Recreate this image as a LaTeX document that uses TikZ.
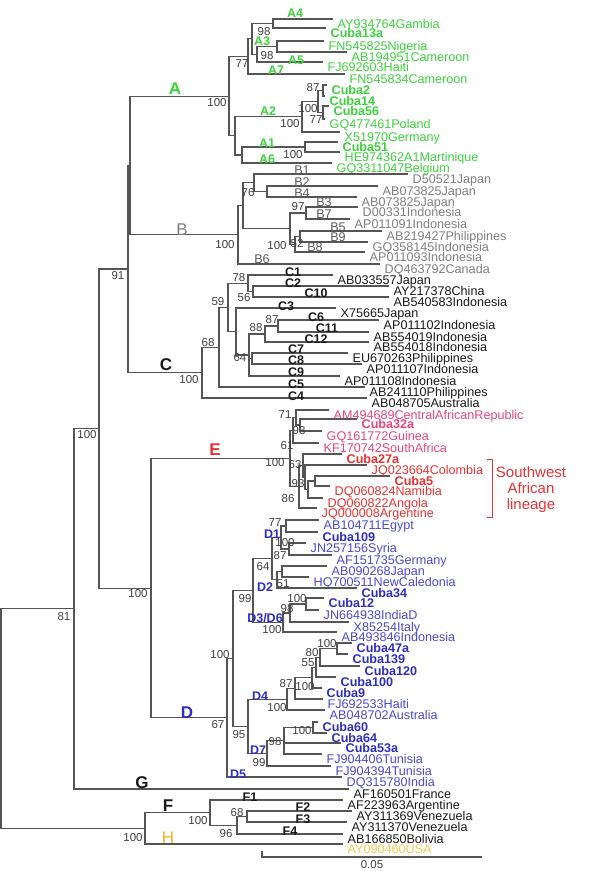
\documentclass[tikz,border=0pt]{standalone}
\usepackage{fontspec}
\setmainfont{Liberation Sans}
\definecolor{lc}{HTML}{555555}
\definecolor{gA}{HTML}{3CD23C}
\definecolor{gB}{HTML}{808080}
\definecolor{gBl}{HTML}{5A5A5A}
\definecolor{cC}{HTML}{1A1A1A}
\definecolor{pE}{HTML}{E6457D}
\definecolor{rE}{HTML}{E83232}
\definecolor{bD}{HTML}{2E2EC0}
\definecolor{bDl}{HTML}{4A4AD2}
\definecolor{oH}{HTML}{F0B428}
\definecolor{oHl}{HTML}{F5C850}
\definecolor{bsc}{HTML}{404040}
\newcommand{\leaffont}{\fontsize{12.6}{14}\selectfont}
\newcommand{\bootfont}{\fontsize{11.5}{13}\selectfont}
\newcommand{\subfnt}{\fontsize{12.5}{14}\selectfont\bfseries}
\newcommand{\bigfnt}{\fontsize{17}{19}\selectfont}
\newcommand{\mkedge}[2]{\foreach \kid in {#2}{\draw[brl] (#1) |- (\kid);}}
\newcommand{\mkleaf}[5]{\coordinate (#1) at (#2,#3);\node[leaf,#4] (#1t) at (#1) {#5};}
\begin{document}
\begin{tikzpicture}[x=1pt,y=-1pt,
  brl/.style={draw=lc,line width=1.1pt},
  leaf/.style={anchor=base west,inner sep=0pt,xshift=4.5pt,yshift=-9.5pt,font=\leaffont},
  cb/.style={font=\leaffont\bfseries},
  bs/.style={font=\bootfont,text=bsc,inner sep=0pt},
  subl/.style={font=\subfnt,inner sep=0pt},
  bigl/.style={font=\bigfnt,inner sep=0pt}]
\fill[white] (0,0) rectangle (592,871);
\useasboundingbox (0,0) rectangle (592,871);
% ---------- internal nodes ----------
\coordinate (nR) at (1,718.5);
\coordinate (n74) at (74,608.8);
\coordinate (n99) at (99,428.5);
\coordinate (nABC) at (128,269);
\coordinate (nAB) at (130,165.5);
\coordinate (nDE) at (151,588.1);
\coordinate (nFH) at (145,828.3);
% A
\coordinate (nA) at (229,96.1);
\coordinate (nA1) at (248,56.4);
\coordinate (n252) at (252,38.9);
\coordinate (nA4) at (273,23.5);
\coordinate (nA35) at (257,54.25);
\coordinate (nA3s) at (277,46.5);
\coordinate (nA2) at (235,135.9);
\coordinate (nA2s) at (302,116.75);
\coordinate (n318) at (318,101.5);
\coordinate (n323a) at (323,90.5);
\coordinate (n323b) at (323,112.5);
\coordinate (nA16) at (242,155);
\coordinate (nA1s) at (305,147);
% B
\coordinate (nB) at (238,234.8);
\coordinate (n243) at (243,205.7);
\coordinate (n254) at (254,182.75);
\coordinate (n267) at (267,191.5);
\coordinate (n290) at (290,228.6);
\coordinate (n306) at (306,213);
\coordinate (n295) at (295,244.25);
\coordinate (n300) at (300,236.5);
% C
\coordinate (nC) at (202,372.6);
\coordinate (n219c) at (219,347.2);
\coordinate (n228c) at (228,307.4);
\coordinate (n248c) at (248,283.25);
\coordinate (n253c) at (253,291.5);
\coordinate (n236c) at (236,331.5);
\coordinate (n249c) at (249,355);
\coordinate (n265c) at (265,334);
\coordinate (n278c) at (278,326);
\coordinate (n252c) at (252,358.5);
% E
\coordinate (nE) at (290,458.5);
\coordinate (ne0) at (293,430.25);
\coordinate (ne1) at (296,417.5);
\coordinate (ne2) at (300,425);
\coordinate (ne6) at (299,486.8);
\coordinate (ne3) at (303,465.6);
\coordinate (ne3b) at (305,477.25);
\coordinate (ne4) at (308,489.5);
\coordinate (ne5) at (315,481);
% D
\coordinate (nD) at (227,717.7);
\coordinate (nd233) at (233,658.4);
\coordinate (nd99) at (253,590.6);
\coordinate (nd12t) at (272,558.6);
\coordinate (nd1) at (281,537.5);
\coordinate (nd11) at (286,526);
\coordinate (nd12) at (289,549);
\coordinate (nd2) at (277,579.75);
\coordinate (nd21) at (282,571.5);
\coordinate (nd36) at (283,622.5);
\coordinate (nd36b) at (290,613);
\coordinate (nd36a) at (306,604);
\coordinate (nd95) at (248,726.25);
\coordinate (nd4) at (287,699.1);
\coordinate (nd87) at (295,688.3);
\coordinate (nd100b) at (312,677.6);
\coordinate (nd55) at (316,667.1);
\coordinate (nd80) at (320,657.25);
\coordinate (nd47) at (337,648.5);
\coordinate (nd99b) at (267,753.4);
\coordinate (nd98) at (284,740.75);
\coordinate (nd60) at (313,727.5);
% F
\coordinate (nF) at (210,812.6);
\coordinate (nF234) at (237,825.25);
\coordinate (nF23) at (247,816.5);
% ---------- leaves ----------
\mkleaf{ta1}{333}{19}{text=gA}{AY934764Gambia}
\mkleaf{ta2}{326}{28}{text=gA,cb}{Cuba13a}
\mkleaf{ta3}{324}{41}{text=gA}{FN545825Nigeria}
\mkleaf{ta4}{347}{52}{text=gA}{AB194951Cameroon}
\mkleaf{ta5}{323}{62}{text=gA}{FJ692603Haiti}
\mkleaf{ta6}{345}{74}{text=gA}{FN545834Cameroon}
\mkleaf{ta7}{327}{85}{text=gA,cb}{Cuba2}
\mkleaf{ta8}{325}{96}{text=gA,cb}{Cuba14}
\mkleaf{ta9}{329}{106}{text=gA,cb}{Cuba56}
\mkleaf{ta10}{325}{119}{text=gA}{GQ477461Poland}
\mkleaf{ta11}{340}{132}{text=gA}{X51970Germany}
\mkleaf{ta12}{338}{142}{text=gA,cb}{Cuba51}
\mkleaf{ta13}{340}{152}{text=gA}{HE974362A1Martinique}
\mkleaf{ta14}{332}{163}{text=gA}{GQ3311047Belgium}
\mkleaf{tb1}{408}{174}{text=gB}{D50521Japan}
\mkleaf{tb2}{378}{186}{text=gB}{AB073825Japan}
\mkleaf{tb4}{357}{197}{text=gB}{AB073825Japan}
\mkleaf{tb3}{358}{207}{text=gB}{D00331Indonesia}
\mkleaf{tb7}{350}{219}{text=gB}{AP011091Indonesia}
\mkleaf{tb5}{382}{231}{text=gB}{AB219427Philippines}
\mkleaf{tb9}{368}{242}{text=gB}{GQ358145Indonesia}
\mkleaf{tb8}{365}{252}{text=gB}{AP011093Indonesia}
\mkleaf{tb6}{380}{264}{text=gB}{DQ463792Canada}
\mkleaf{tc1}{333}{275}{text=cC}{AB033557Japan}
\mkleaf{tc2}{389}{286}{text=cC}{AY217378China}
\mkleaf{tc10}{389}{297}{text=cC}{AB540583Indonesia}
\mkleaf{tc3}{336}{308}{text=cC}{X75665Japan}
\mkleaf{tc6}{379}{320}{text=cC}{AP011102Indonesia}
\mkleaf{tc11}{369}{332}{text=cC}{AB554019Indonesia}
\mkleaf{tc12}{369}{342}{text=cC}{AB554018Indonesia}
\mkleaf{tc7}{348}{353}{text=cC}{EU670263Philippines}
\mkleaf{tc8}{362}{364}{text=cC}{AP011107Indonesia}
\mkleaf{tc9}{340}{376}{text=cC}{AP011108Indonesia}
\mkleaf{tc5}{365}{387}{text=cC}{AB241110Philippines}
\mkleaf{tc4}{367}{398}{text=cC}{AB048705Australia}
\mkleaf{te1}{329}{410}{text=pE}{AM494689CentralAfricanRepublic}
\mkleaf{te2}{357}{419}{text=pE,cb}{Cuba32a}
\mkleaf{te3}{322}{431}{text=pE}{GQ161772Guinea}
\mkleaf{te4}{319}{443}{text=pE}{KF170742SouthAfrica}
\mkleaf{te5}{342}{454}{text=rE,cb}{Cuba27a}
\mkleaf{te6}{367}{465}{text=rE}{JQ023664Colombia}
\mkleaf{te7}{390}{476}{text=rE,cb}{Cuba5}
\mkleaf{te8}{330}{486}{text=rE}{DQ060824Namibia}
\mkleaf{te9}{323}{498}{text=rE}{DQ060822Angola}
\mkleaf{te10}{317}{508}{text=rE}{JQ000008Argentine}
\mkleaf{td1}{319}{520}{text=bDl}{AB104711Egypt}
\mkleaf{td2}{318}{532}{text=bD,cb}{Cuba109}
\mkleaf{td3}{306}{543}{text=bDl}{JN257156Syria}
\mkleaf{td4}{332}{555}{text=bDl}{AF151735Germany}
\mkleaf{td5}{327}{566}{text=bDl}{AB090268Japan}
\mkleaf{td6}{309}{577}{text=bDl}{HQ700511NewCaledonia}
\mkleaf{td7}{357}{588}{text=bD,cb}{Cuba34}
\mkleaf{td8}{324}{598}{text=bD,cb}{Cuba12}
\mkleaf{td9}{319}{610}{text=bDl}{JN664938IndiaD}
\mkleaf{td10}{349}{622}{text=bDl}{X85254Italy}
\mkleaf{td11}{337}{632}{text=bDl}{AB493846Indonesia}
\mkleaf{td12}{352}{643}{text=bD,cb}{Cuba47a}
\mkleaf{td13}{348}{654}{text=bD,cb}{Cuba139}
\mkleaf{td14}{360}{666}{text=bD,cb}{Cuba120}
\mkleaf{td15}{336}{677}{text=bD,cb}{Cuba100}
\mkleaf{td16}{322}{688}{text=bD,cb}{Cuba9}
\mkleaf{td17}{323}{699}{text=bDl}{FJ692533Haiti}
\mkleaf{td18}{325}{710}{text=bDl}{AB048702Australia}
\mkleaf{td19}{318}{722}{text=bD,cb}{Cuba60}
\mkleaf{td20}{327}{733}{text=bD,cb}{Cuba64}
\mkleaf{td21}{341}{743}{text=bD,cb}{Cuba53a}
\mkleaf{td22}{322}{754}{text=bDl}{FJ904406Tunisia}
\mkleaf{td23}{331}{766}{text=bDl}{FJ904394Tunisia}
\mkleaf{td24}{342}{777}{text=bDl}{DQ315780India}
\mkleaf{tg}{349}{789}{text=cC}{AF160501France}
\mkleaf{tf1}{343}{800}{text=cC}{AF223963Argentine}
\mkleaf{tf2}{352}{811}{text=cC}{AY311369Venezuela}
\mkleaf{tf3}{347}{822}{text=cC}{AY311370Venezuela}
\mkleaf{tf4}{343}{834}{text=cC}{AB166850Bolivia}
\mkleaf{th}{343}{844}{text=oHl}{AY090460USA}
% ---------- branches ----------
\mkedge{nR}{n74,nFH}
\mkedge{n74}{n99,tg}
\mkedge{n99}{nABC,nDE}
\mkedge{nABC}{nAB,nC}
\mkedge{nAB}{nA,nB}
\mkedge{nDE}{nE,nD}
\mkedge{nFH}{nF,th}
\mkedge{nF}{tf1,nF234}
\mkedge{nF234}{nF23,tf4}
\mkedge{nF23}{tf2,tf3}
\mkedge{nA}{nA1,nA2}
\mkedge{nA1}{n252,ta6}
\mkedge{n252}{nA4,nA35}
\mkedge{nA4}{ta1,ta2}
\mkedge{nA35}{nA3s,ta5}
\mkedge{nA3s}{ta3,ta4}
\mkedge{nA2}{nA2s,nA16}
\mkedge{nA2s}{n318,ta11}
\mkedge{n318}{n323a,n323b}
\mkedge{n323a}{ta7,ta8}
\mkedge{n323b}{ta9,ta10}
\mkedge{nA16}{nA1s,ta14}
\mkedge{nA1s}{ta12,ta13}
\mkedge{nB}{n243,tb6}
\mkedge{n243}{n254,n290}
\mkedge{n254}{tb1,n267}
\mkedge{n267}{tb2,tb4}
\mkedge{n290}{n306,n295}
\mkedge{n306}{tb3,tb7}
\mkedge{n295}{n300,tb8}
\mkedge{n300}{tb5,tb9}
\mkedge{nC}{n219c,tc4}
\mkedge{n219c}{n228c,tc5}
\mkedge{n228c}{n248c,n236c}
\mkedge{n248c}{tc1,n253c}
\mkedge{n253c}{tc2,tc10}
\mkedge{n236c}{tc3,n249c}
\mkedge{n249c}{n265c,n252c,tc9}
\mkedge{n265c}{n278c,tc12}
\mkedge{n278c}{tc6,tc11}
\mkedge{n252c}{tc7,tc8}
\mkedge{nE}{ne0,ne6}
\mkedge{ne0}{ne1,te4}
\mkedge{ne1}{te1,ne2}
\mkedge{ne2}{te2,te3}
\mkedge{ne6}{ne3,te10}
\mkedge{ne3}{te5,ne3b}
\mkedge{ne3b}{te6,ne4}
\mkedge{ne4}{ne5,te9}
\mkedge{ne5}{te7,te8}
\mkedge{nD}{nd233,td24}
\mkedge{nd233}{nd99,nd95}
\mkedge{nd99}{nd12t,nd36}
\mkedge{nd12t}{nd1,nd2}
\mkedge{nd1}{nd11,nd12}
\mkedge{nd11}{td1,td2}
\mkedge{nd12}{td3,td4}
\mkedge{nd2}{nd21,td7}
\mkedge{nd21}{td5,td6}
\mkedge{nd36}{nd36b,td11}
\mkedge{nd36b}{nd36a,td10}
\mkedge{nd36a}{td8,td9}
\mkedge{nd95}{nd4,nd99b}
\mkedge{nd4}{nd87,td18}
\mkedge{nd87}{nd100b,td17}
\mkedge{nd100b}{nd55,td16}
\mkedge{nd55}{nd80,td15}
\mkedge{nd80}{nd47,td14}
\mkedge{nd47}{td12,td13}
\mkedge{nd99b}{nd98,td23}
\mkedge{nd98}{nd60,td21,td22}
\mkedge{nd60}{td19,td20}
% ---------- bootstrap values ----------
\node[bs] (x1) at (264,32) {98};
\node[bs] (x2) at (267,56) {98};
\node[bs] (x3) at (242,64) {77};
\node[bs] (x4) at (217,103) {100};
\node[bs] (x5) at (313,88) {87};
\node[bs] (x6) at (308,109) {100};
\node[bs] (x7) at (316,120) {77};
\node[bs] (x8) at (290,124) {100};
\node[bs] (x9) at (293,155) {100};
\node[bs] (x10) at (248,193) {76};
\node[bs] (x11) at (298,207) {97};
\node[bs] (x12) at (277,246) {100};
\node[bs] (x13) at (297,244) {52};
\node[bs] (x14) at (225,245) {100};
\node[bs] (x15) at (239,278) {78};
\node[bs] (x16) at (244,298) {56};
\node[bs] (x17) at (218,302) {59};
\node[bs] (x18) at (272,320) {87};
\node[bs] (x19) at (256,328) {88};
\node[bs] (x20) at (240,358) {64};
\node[bs] (x21) at (208,343) {68};
\node[bs] (x22) at (189,380) {100};
\node[bs] (x23) at (118,276) {91};
\node[bs] (x24) at (285,415) {71};
\node[bs] (x25) at (299,431) {93};
\node[bs] (x26) at (287,446) {61};
\node[bs] (x27) at (275,463) {100};
\node[bs] (x28) at (295,465) {63};
\node[bs] (x29) at (298,484) {93};
\node[bs] (x30) at (288,499) {86};
\node[bs] (x31) at (275,523) {77};
\node[bs] (x32) at (285,543) {100};
\node[bs] (x33) at (280,556) {87};
\node[bs] (x34) at (263,567) {64};
\node[bs] (x35) at (283,584) {51};
\node[bs] (x36) at (245,599) {99};
\node[bs] (x37) at (297,599) {100};
\node[bs] (x38) at (287,609) {98};
\node[bs] (x39) at (272,630) {100};
\node[bs] (x40) at (220,655) {100};
\node[bs] (x41) at (327,644) {100};
\node[bs] (x42) at (312,653) {80};
\node[bs] (x43) at (308,663) {55};
\node[bs] (x44) at (286,684) {87};
\node[bs] (x45) at (305,687) {100};
\node[bs] (x46) at (277,708) {100};
\node[bs] (x47) at (218,725) {67};
\node[bs] (x48) at (239,735) {95};
\node[bs] (x49) at (302,731) {100};
\node[bs] (x50) at (275,742) {98};
\node[bs] (x51) at (259,763) {99};
\node[bs] (x52) at (138,594) {100};
\node[bs] (x53) at (87,435) {100};
\node[bs] (x54) at (64,617) {81};
\node[bs] (x55) at (237,813) {68};
\node[bs] (x56) at (226,834) {96};
\node[bs] (x57) at (198,821) {100};
\node[bs] (x58) at (133,838) {100};
% ---------- subgenotype labels ----------
\node[subl,text=gA] (sa4) at (295,13) {A4};
\node[subl,text=gA] (sa3) at (262,41) {A3};
\node[subl,text=gA] (sa5) at (296,60) {A5};
\node[subl,text=gA] (sa7) at (276,70) {A7};
\node[subl,text=gA] (sa2) at (268,111) {A2};
\node[subl,text=gA] (sa1) at (267,143) {A1};
\node[subl,text=gA] (sa6) at (267,159) {A6};
\node[subl,text=gBl,font=\leaffont] (sb1) at (302,170) {B1};
\node[subl,text=gBl,font=\leaffont] (sb2) at (302,182) {B2};
\node[subl,text=gBl,font=\leaffont] (sb4) at (302,193) {B4};
\node[subl,text=gBl,font=\leaffont] (sb3) at (324,202) {B3};
\node[subl,text=gBl,font=\leaffont] (sb7) at (324,214) {B7};
\node[subl,text=gBl,font=\leaffont] (sb5) at (338,227) {B5};
\node[subl,text=gBl,font=\leaffont] (sb9) at (338,237) {B9};
\node[subl,text=gBl,font=\leaffont] (sb8) at (315,247) {B8};
\node[subl,text=gBl,font=\leaffont] (sb6) at (262,259) {B6};
\node[subl,text=cC] (sc1) at (293,272) {C1};
\node[subl,text=cC] (sc2) at (293,283) {C2};
\node[subl,text=cC] (sc10) at (316,293) {C10};
\node[subl,text=cC] (sc3) at (286,306) {C3};
\node[subl,text=cC] (sc6) at (316,317) {C6};
\node[subl,text=cC] (sc11) at (327,328) {C11};
\node[subl,text=cC] (sc12) at (316,339) {C12};
\node[subl,text=cC] (sc7) at (296,349) {C7};
\node[subl,text=cC] (sc8) at (296,360) {C8};
\node[subl,text=cC] (sc9) at (296,372) {C9};
\node[subl,text=cC] (sc5) at (296,384) {C5};
\node[subl,text=cC] (sc4) at (296,396) {C4};
\node[subl,text=bD] (sd1) at (272,534) {D1};
\node[subl,text=bD] (sd2) at (265,587) {D2};
\node[subl,text=bD] (sd36) at (265,618) {D3/D6};
\node[subl,text=bD] (sd4) at (260,696) {D4};
\node[subl,text=bD] (sd7) at (258,750) {D7};
\node[subl,text=bD] (sd5) at (238,774) {D5};
\node[subl,text=cC] (sf1) at (250,797) {F1};
\node[subl,text=cC] (sf2) at (303,807) {F2};
\node[subl,text=cC] (sf3) at (303,819) {F3};
\node[subl,text=cC] (sf4) at (290,831) {F4};
% ---------- genotype labels ----------
\node[bigl,text=gA,font=\bigfnt\bfseries] (gLA) at (175,89) {A};
\node[bigl,text=gB] (gLB) at (182,230) {B};
\node[bigl,text=cC,font=\bigfnt\bfseries] (gLC) at (166,365) {C};
\node[bigl,text=rE,font=\bigfnt\bfseries] (gLE) at (215,450) {E};
\node[bigl,text=bD,font=\bigfnt\bfseries] (gLD) at (187,713) {D};
\node[bigl,text=cC,font=\bigfnt\bfseries] (gLG) at (142,783) {G};
\node[bigl,text=cC,font=\bigfnt\bfseries] (gLF) at (168,806) {F};
\node[bigl,text=oH] (gLH) at (168,838) {H};
% ---------- Southwest African lineage ----------
\coordinate (sw1) at (487,459);
\coordinate (sw2) at (492,459);
\coordinate (sw3) at (492,517);
\coordinate (sw4) at (487,517);
\draw[rE,line width=1pt] (sw1) -- (sw2) -- (sw3) -- (sw4);
\node[text=rE,font=\fontsize{15}{16}\selectfont,align=center,inner sep=0pt] (swt) at (531,490) {Southwest\\African\\lineage};
% ---------- scale bar ----------
\coordinate (s0) at (262,857);
\coordinate (s1) at (482,857);
\coordinate (s2) at (262,851);
\draw[brl] (s2) -- (s0) -- (s1);
\node[font=\bootfont,text=bsc,inner sep=0pt] (sl) at (372,864.5) {0.05};
\end{tikzpicture}
\end{document}
